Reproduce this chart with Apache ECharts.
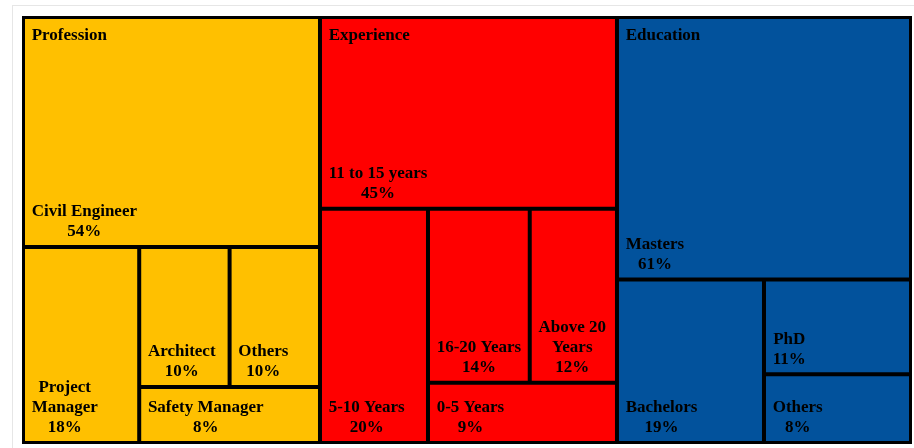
<!DOCTYPE html>
<html>
<head>
<meta charset="utf-8">
<script src="https://cdn.jsdelivr.net/npm/echarts@6/dist/echarts.min.js"></script>
<style>
html,body{margin:0;padding:0;background:#fff;}
#frame{position:absolute;left:12px;top:5px;width:920px;height:460px;border:1px solid #e6e6e6;box-sizing:border-box;}
#chart{position:absolute;left:0;top:0;width:914px;height:448px;}
</style>
</head>
<body>
<div id="frame"></div>
<div id="chart"></div>
<script>
// ---- data ----
const groups = ['Profession', 'Experience', 'Education'];
const groupColors = ['#FFC000', '#FF0000', '#02529C'];
const professionNames = ['Civil Engineer', 'Project Manager', 'Architect', 'Others', 'Safety Manager'];
const professionValues = [54, 18, 10, 10, 8];
const experienceNames = ['11 to 15 years', '5-10 Years', '16-20 Years', 'Above 20 Years', '0-5 Years'];
const experienceValues = [45, 20, 14, 12, 9];
const educationNames = ['Masters', 'Bachelors', 'PhD', 'Others'];
const educationValues = [61, 19, 11, 8];
// line breaks used in the narrow cells
const labelBreaks = {
  'Project Manager': ['Project', 'Manager'],
  'Above 20 Years': ['Above 20', 'Years']
};

const FONT = 'Liberation Serif';
const FS = 17, LH = 20, PAD_L = 6.7, PAD_B = 3;
const CLEAR = 'rgba(0,0,0,0)';

const sets = [
  [professionNames, professionValues],
  [experienceNames, experienceValues],
  [educationNames, educationValues]
];

// nested grouping so the library's squarify lays cells out as in the original
function nestChildren(names, values) {
  const leaf = i => ({ name: names[i], value: values[i] });
  const tail = names.length === 5
    ? [{ name: '', children: [leaf(2), leaf(3)] }, leaf(4)]
    : [leaf(2), leaf(3)];
  return [leaf(0), { name: '', children: [leaf(1), { name: '', children: tail }] }];
}

const sum = arr => arr.reduce((a, b) => a + b, 0);

const mainData = groups.map((g, gi) => ({
  name: g,
  itemStyle: { color: groupColors[gi] },
  children: nestChildren(sets[gi][0], sets[gi][1])
}));
const titleData = groups.map((g, gi) => ({
  name: g,
  value: sum(sets[gi][1]),
  itemStyle: { color: CLEAR, borderColor: CLEAR }
}));

const measureCtx = document.createElement('canvas').getContext('2d');
measureCtx.font = 'bold ' + FS + 'px "' + FONT + '"';

const chart = echarts.init(document.getElementById('chart'));
const common = {
  type: 'treemap',
  left: 22, top: 16, right: 2, bottom: 4,
  roam: false,
  nodeClick: false,
  silent: true,
  sort: false,
  squareRatio: 1,
  breadcrumb: { show: false },
  upperLabel: { show: false }
};
chart.setOption({
  animation: false,
  series: [
    Object.assign({}, common, {
      z: 2,
      itemStyle: { borderColor: '#000', borderWidth: 0, gapWidth: 4 },
      levels: [{ itemStyle: { borderColor: '#000', borderWidth: 3, gapWidth: 4 } }],
      label: {
        show: true,
        position: 'insideBottomLeft',
        padding: 0,
        distance: 0,
        color: '#000',
        fontFamily: FONT,
        fontWeight: 'bold',
        fontSize: FS,
        lineHeight: LH,
        overflow: 'none',
        formatter: function (p) {
          return (labelBreaks[p.name] || [p.name]).concat([p.value + '%']).join('\n');
        }
      },
      labelLayout: function (p) {
        const lines = String(p.text).split('\n');
        const maxW = Math.max.apply(null, lines.map(l => measureCtx.measureText(l).width));
        return {
          x: p.rect.x + PAD_L + maxW / 2,
          y: p.rect.y + p.rect.height - PAD_B - lines.length * LH,
          align: 'center',
          verticalAlign: 'top'
        };
      },
      data: mainData
    }),
    Object.assign({}, common, {
      z: 5,
      itemStyle: { color: CLEAR, borderColor: CLEAR, borderWidth: 0, gapWidth: 4 },
      levels: [{ itemStyle: { borderColor: CLEAR, borderWidth: 3, gapWidth: 4 } }],
      label: {
        show: true,
        position: 'insideTopLeft',
        padding: [6.5, 6.7, 0, 6.7],
        distance: 0,
        color: '#000',
        fontFamily: FONT,
        fontWeight: 'bold',
        fontSize: FS,
        lineHeight: LH,
        overflow: 'none',
        formatter: '{b}'
      },
      data: titleData
    })
  ]
});
</script>
</body>
</html>
